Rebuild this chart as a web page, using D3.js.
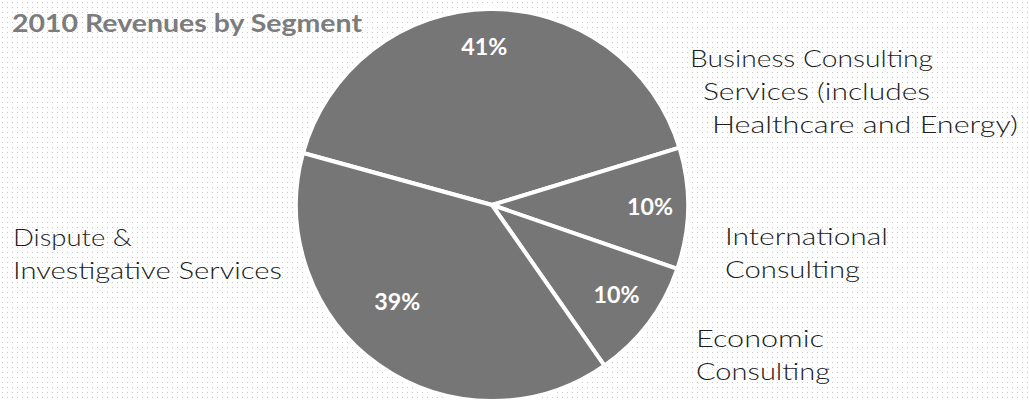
<!DOCTYPE html>
<html>
<head>
<meta charset="utf-8">
<script src="https://cdn.jsdelivr.net/npm/d3@7"></script>
<style>
  html, body { margin: 0; padding: 0; background: #fff; }
  svg { display: block; }
  text { font-family: "Century Gothic", "URW Gothic", Lato, "Open Sans", sans-serif; }
</style>
</head>
<body>
<svg id="chart"></svg>
<script>
const title = '2010 Revenues by Segment';
const categories = ['Business Consulting', 'International Consulting', 'Economic Consulting', 'Dispute & Investigative Services'];
const values = [41, 10, 10, 39];
const percentLabels = ['41%', '10%', '10%', '39%'];
const labelLines = [
    ['Business Consulting', 'Services (includes', 'Healthcare and Energy)'],
    ['International', 'Consulting'],
    ['Economic', 'Consulting'],
    ['Dispute &', 'Investigative Services']
];

const width = 1029, height = 402;
const cx = 492, cy = 205, radius = 196;

// where each block of text sits, relative to the pie center
const labelLayout = [
    { dx: 198, dy: -138, indent: [0, 13, 22], widths: [243, 227, 306] },
    { dx: 233, dy: 40, indent: [0, 0], widths: [163, 135] },
    { dx: 204, dy: 142, indent: [0, 0], widths: [128, 134] },
    { dx: -479, dy: 41, indent: [0, 0], widths: [119, 269] }
];
// radius and angle nudge for the percent labels
const pctLayout = [
    { r: 158, da: -2 },
    { r: 158, da: 0 },
    { r: 154, da: -1 },
    { r: 136, da: 9 }
];

const svg = d3.select('#chart')
    .attr('width', width)
    .attr('height', height);

// halftone-ish backdrop
const defs = svg.append('defs');
defs.append('pattern')
    .attr('id', 'dots')
    .attr('width', 5)
    .attr('height', 5)
    .attr('patternUnits', 'userSpaceOnUse')
    .append('rect')
    .attr('x', 2).attr('y', 2)
    .attr('width', 1).attr('height', 1)
    .attr('fill', '#c8c8c8');

svg.append('rect')
    .attr('width', width)
    .attr('height', height)
    .attr('fill', '#fff');
svg.append('rect')
    .attr('width', width)
    .attr('height', height)
    .attr('fill', 'url(#dots)');

const deg = Math.PI / 180;
const pie = d3.pie()
    .sort(null)
    .startAngle(-74.6 * deg)
    .endAngle(285.4 * deg);

const arcs = pie(values);

const arc = d3.arc()
    .innerRadius(0)
    .outerRadius(radius);

const g = svg.append('g')
    .attr('transform', `translate(${cx},${cy})`);

g.selectAll('path')
    .data(arcs)
    .join('path')
    .attr('d', arc)
    .attr('fill', '#767676')
    .attr('stroke', '#fff')
    .attr('stroke-width', 4)
    .attr('stroke-linejoin', 'round');

// percent labels inside slices
g.selectAll('text.pct')
    .data(arcs)
    .join('text')
    .attr('class', 'pct')
    .attr('x', (d, i) => {
        const a = (d.startAngle + d.endAngle) / 2 + pctLayout[i].da * deg;
        return Math.sin(a) * pctLayout[i].r;
    })
    .attr('y', (d, i) => {
        const a = (d.startAngle + d.endAngle) / 2 + pctLayout[i].da * deg;
        return -Math.cos(a) * pctLayout[i].r;
    })
    .attr('dy', '0.35em')
    .attr('text-anchor', 'middle')
    .attr('fill', '#fff')
    .attr('font-size', 22)
    .attr('font-weight', 'bold')
    .attr('textLength', 46)
    .attr('lengthAdjust', 'spacingAndGlyphs')
    .text((d, i) => percentLabels[i]);

// category labels outside the pie
categories.forEach((c, i) => {
    const lay = labelLayout[i];
    const t = g.append('text')
        .attr('fill', '#1c1c1c')
        .attr('font-size', 24)
        .attr('font-weight', 300);
    labelLines[i].forEach((line, j) => {
        t.append('tspan')
            .attr('x', lay.dx + lay.indent[j])
            .attr('y', lay.dy + j * 33)
            .attr('textLength', lay.widths[j])
            .attr('lengthAdjust', 'spacingAndGlyphs')
            .text(line);
    });
});

svg.append('text')
    .attr('x', 12)
    .attr('y', 32)
    .attr('fill', '#7c7c7c')
    .attr('font-size', 24)
    .attr('font-weight', 'bold')
    .attr('textLength', 350)
    .attr('lengthAdjust', 'spacingAndGlyphs')
    .text(title);
</script>
</body>
</html>
